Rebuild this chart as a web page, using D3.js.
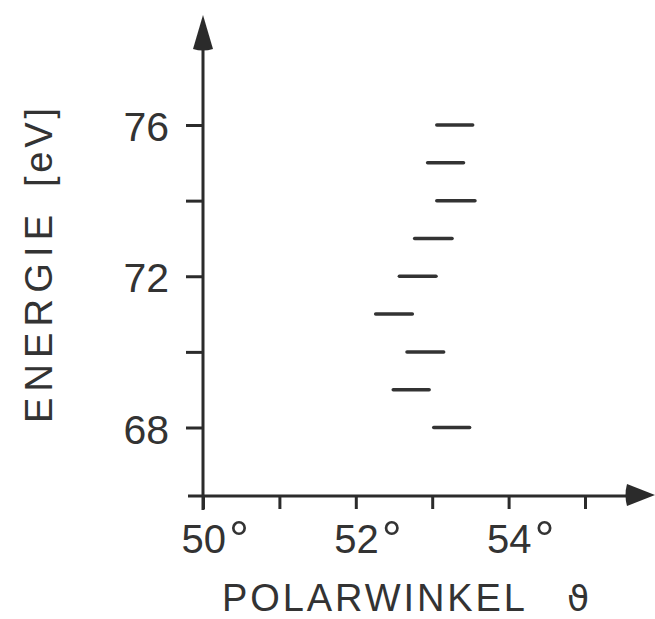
<!DOCTYPE html>
<html>
<head>
<meta charset="utf-8">
<script src="https://cdn.jsdelivr.net/npm/d3@7"></script>
<style>
  html, body { margin: 0; padding: 0; background: #fff; }
  svg { display: block; }
  text { font-family: "Liberation Sans", Arial, sans-serif; fill: #333; }
</style>
</head>
<body>
<svg id="chart" width="655" height="619"></svg>
<script>
// Energy levels (eV) and the polar-angle interval (degrees) measured at each
const energies   = [68, 69, 70, 71, 72, 73, 74, 75, 76];
const thetaStart = [53.02, 52.49, 52.67, 52.26, 52.57, 52.77, 53.06, 52.94, 53.06];
const thetaEnd   = [53.49, 52.96, 53.15, 52.74, 53.05, 53.26, 53.56, 53.41, 53.53];

// Axis ticks and which of them carry a label
const xTicks = [50, 51, 52, 53, 54, 55];
const xTickLabels = [50, 52, 54];
const yTicks = [68, 70, 72, 74, 76];
const yTickLabels = [68, 72, 76];

const ink = "#2b2b2b";
const svg = d3.select("#chart");

const x = d3.scaleLinear().domain([50, 55]).range([203, 585]);
const y = d3.scaleLinear().domain([68, 76]).range([427.5, 125]);

const axisY = x(50);       // vertical axis position
const axisX = 496;         // horizontal axis position
const yTop = 15;           // tip of the vertical arrow
const xRight = 655;        // tip of the horizontal arrow

// Vertical axis with arrow head
svg.append("line")
  .attr("x1", axisY).attr("x2", axisY)
  .attr("y1", 510).attr("y2", yTop + 30)
  .attr("stroke", ink).attr("stroke-width", 3);
svg.append("path")
  .attr("d", `M${axisY},${yTop} L${axisY - 10},${yTop + 34} Q${axisY},${yTop + 37} ${axisY + 10},${yTop + 34} Z`)
  .attr("fill", ink);

// Horizontal axis with arrow head
svg.append("line")
  .attr("x1", 188).attr("x2", xRight - 25)
  .attr("y1", axisX).attr("y2", axisX)
  .attr("stroke", ink).attr("stroke-width", 3);
svg.append("path")
  .attr("d", `M${xRight},${axisX - 1} L${xRight - 28},${axisX - 12} Q${xRight - 31},${axisX - 1} ${xRight - 28},${axisX + 10} Z`)
  .attr("fill", ink);

// Y ticks (pointing left), labelled every 4 eV
const yAxis = d3.axisLeft(y)
  .tickValues(yTicks)
  .tickSize(17)
  .tickPadding(17)
  .tickFormat(d => yTickLabels.includes(d) ? d : "");
const gy = svg.append("g")
  .attr("transform", `translate(${axisY},0)`)
  .call(yAxis);
gy.select(".domain").remove();
gy.selectAll(".tick line").attr("stroke", ink).attr("stroke-width", 3);
gy.selectAll(".tick text")
  .attr("font-size", 41)
  .attr("font-family", "Liberation Sans, Arial, sans-serif")
  .attr("fill", "#333")
  .attr("dy", "0.38em");

// X ticks (pointing down), labelled every 2 degrees
const xAxis = d3.axisBottom(x)
  .tickValues(xTicks)
  .tickSize(13)
  .tickPadding(16)
  .tickFormat(d => xTickLabels.includes(d) ? String(d) : "");
const gx = svg.append("g")
  .attr("transform", `translate(0,${axisX})`)
  .call(xAxis);
gx.select(".domain").remove();
gx.selectAll(".tick line").attr("stroke", ink).attr("stroke-width", 3);
gx.selectAll(".tick text")
  .attr("font-size", 40)
  .attr("font-family", "Liberation Sans, Arial, sans-serif")
  .attr("fill", "#333")
  .attr("text-anchor", "start")
  .attr("x", -22)
  .each(function () {
    const t = d3.select(this);
    if (t.text() !== "") {
      // larger degree ring set just after the digits
      t.append("tspan").attr("dx", 3).attr("font-size", 50).attr("dy", "0.05em").text("°");
    }
  });

// Angular interval at each energy
svg.append("g")
  .selectAll("line")
  .data(energies)
  .join("line")
  .attr("x1", (d, i) => x(thetaStart[i]))
  .attr("x2", (d, i) => x(thetaEnd[i]))
  .attr("y1", d => y(d))
  .attr("y2", d => y(d))
  .attr("stroke", "#333")
  .attr("stroke-width", 3.5)
  .attr("stroke-linecap", "round");

// Axis titles
const yTitle = svg.append("g").attr("transform", "translate(52,0) rotate(-90)");
yTitle.append("text")
  .attr("x", -423).attr("y", 0)
  .attr("font-size", 38)
  .attr("textLength", 208).attr("lengthAdjust", "spacing")
  .text("ENERGIE");
yTitle.append("text")
  .attr("x", -187).attr("y", 0)
  .attr("font-size", 38)
  .attr("textLength", 79).attr("lengthAdjust", "spacing")
  .text("[eV]");

svg.append("text")
  .attr("x", 222).attr("y", 611)
  .attr("font-size", 38)
  .attr("textLength", 303).attr("lengthAdjust", "spacing")
  .text("POLARWINKEL");
svg.append("text")
  .attr("x", 567).attr("y", 611)
  .attr("font-size", 36)
  .style("font-family", "DejaVu Sans, sans-serif")
  .text("ϑ");
</script>
</body>
</html>
